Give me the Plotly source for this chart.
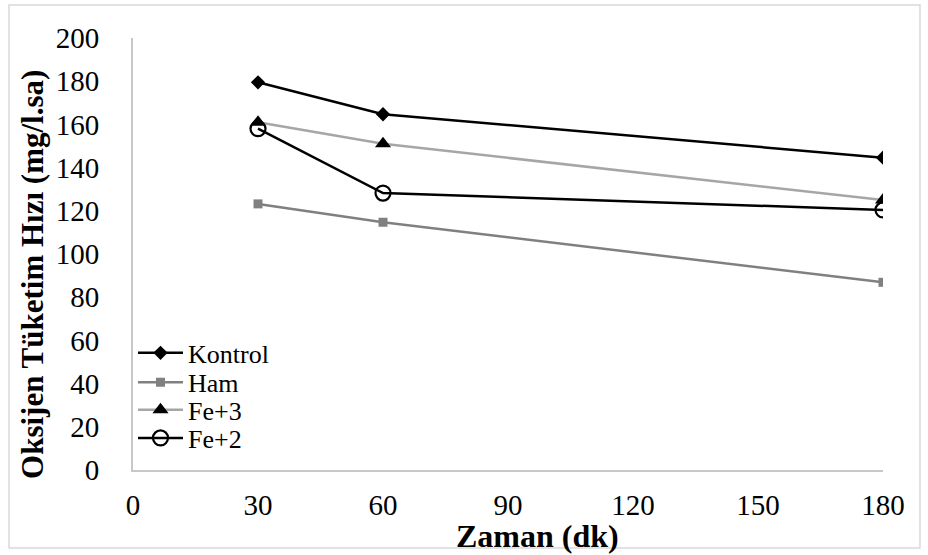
import plotly.graph_objects as go

x_vals = [30, 60, 180]
kontrol = [179.5, 164.7, 144.6]
ham = [123.2, 114.7, 86.9]
fe3 = [161.0, 151.0, 125.0]
fe2 = [158.0, 128.2, 120.4]

x_ticks = [0, 30, 60, 90, 120, 150, 180]
y_ticks = [0, 20, 40, 60, 80, 100, 120, 140, 160, 180, 200]

x_title = "Zaman (dk)"
y_title = "Oksijen Tüketim Hızı (mg/l.sa)"

FONT = "Liberation Serif"
FS = 29

fig = go.Figure()
fig.add_trace(go.Scatter(x=x_vals, y=kontrol, name="Kontrol", mode="lines+markers",
                         legend="legend",
                         line=dict(color="black", width=2.5),
                         marker=dict(symbol="diamond", size=11, color="black")))
fig.add_trace(go.Scatter(x=x_vals, y=ham, name="Ham", mode="lines+markers",
                         legend="legend2",
                         line=dict(color="#808080", width=2.5),
                         marker=dict(symbol="square", size=9, color="#808080")))
fig.add_trace(go.Scatter(x=x_vals, y=fe3, name="Fe+3", mode="lines+markers",
                         legend="legend3",
                         line=dict(color="#a6a6a6", width=2.5),
                         marker=dict(symbol="triangle-up", size=14, color="black")))
fig.add_trace(go.Scatter(x=x_vals, y=fe2, name="Fe+2", mode="lines+markers",
                         legend="legend4",
                         line=dict(color="black", width=2.5),
                         marker=dict(symbol="circle-open", size=15, color="black",
                                     line=dict(width=2.2, color="black"))))

def leg(yc):
    return dict(x=0.0, y=yc, xanchor="left", yanchor="middle",
                bgcolor="rgba(0,0,0,0)", font=dict(family=FONT, size=26, color="black"),
                itemwidth=45, borderwidth=0)

fig.update_layout(
    width=928, height=555,
    margin=dict(l=133, r=45, t=38, b=85),
    paper_bgcolor="white", plot_bgcolor="white",
    font=dict(family=FONT, size=FS, color="black"),
    showlegend=True,
    legend=leg(0.271),
    legend2=leg(0.203),
    legend3=leg(0.139),
    legend4=leg(0.074),
    xaxis=dict(range=[0, 180], tickmode="array", tickvals=x_ticks,
               showgrid=False, zeroline=False, showline=True,
               linecolor="#c8c8c8", linewidth=2, ticks="",
               tickfont=dict(family=FONT, size=FS),
               ticklabelstandoff=8),
    yaxis=dict(range=[0, 200], tickmode="array", tickvals=y_ticks,
               showgrid=False, zeroline=False, showline=True,
               linecolor="#c8c8c8", linewidth=2, ticks="",
               tickfont=dict(family=FONT, size=FS),
               ticklabelstandoff=26),
    annotations=[
        dict(text="<b>" + x_title + "</b>", xref="paper", yref="paper",
             x=0.539, y=-0.153, xanchor="center", yanchor="middle",
             showarrow=False, font=dict(family=FONT, size=32, color="black")),
        dict(text="<b>" + y_title + "</b>", xref="paper", yref="paper",
             x=-0.1347, y=0.4537, xanchor="center", yanchor="middle", textangle=-90,
             showarrow=False, font=dict(family=FONT, size=31, color="black")),
    ],
    shapes=[dict(type="rect", xref="paper", yref="paper",
                 x0=-0.1653, x1=1.0493, y0=-0.1806, y1=1.0764,
                 line=dict(color="#d9d9d9", width=1.5), fillcolor="rgba(0,0,0,0)")],
)

fig.write_html("out.html")
